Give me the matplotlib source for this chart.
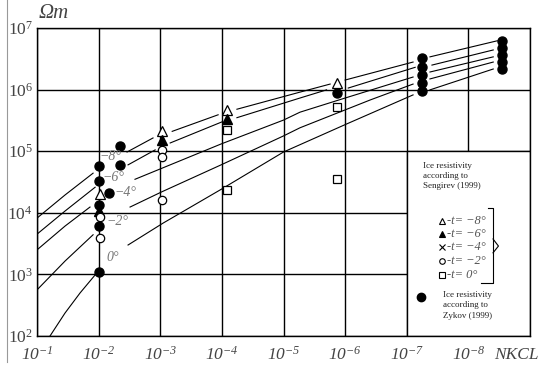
import numpy as np
import matplotlib
matplotlib.use("Agg")
import matplotlib.pyplot as plt
from matplotlib.patches import Rectangle
from matplotlib.lines import Line2D

nan = np.nan

# calculated curves, NaN = gap in the drawn line
m8_x = [1e-1, 3.5e-2, 1.23e-2, nan, 3.46e-3, 1.31e-3, nan, 6.4e-4, 1.15e-4, nan,
        5.7e-5, 5.4e-6, 1.75e-6, nan, 1e-6, 7.9e-8, nan, 4.2e-8, 3.4e-9]
m8_y = [8.2e3, 1.95e4, 4.4e4, nan, 9.7e4, 1.64e5, nan, 2.1e5, 3.9e5, nan,
        4.8e5, 9.1e5, 1.23e6, nan, 1.43e6, 2.8e6, nan, 3.4e6, 6.2e6]
m6_x = [1e-1, 3.5e-2, 1.14e-2, nan, 3.33e-3, 1.21e-3, nan, 6.9e-4, 9.9e-5, nan,
        5.7e-5, 5.4e-6, 2.0e-6, nan, 8.9e-7, 7.3e-8, nan, 3.9e-8, 3.95e-9]
m6_y = [4.5e3, 1.07e4, 2.6e4, nan, 6.0e4, 1.05e5, nan, 1.36e5, 3.0e5, nan,
        3.5e5, 7.3e5, 9.9e5, nan, 1.06e6, 2.3e6, nan, 2.5e6, 4.4e6]
m4_x = [1e-1, 3.5e-2, 1.38e-2, nan, 2.57e-3, 9.35e-4, 1.03e-4, 1.0e-5, 5.4e-6,
        1e-6, 7.9e-8, nan, 4.2e-8, 3.95e-9]
m4_y = [2.5e3, 6.1e3, 1.24e4, nan, 3.5e4, 5.3e4, 1.31e5, 3.2e5, 4.3e5,
        7.3e5, 1.6e6, nan, 1.93e6, 3.4e6]
m2_x = [1e-1, 3.5e-2, 1.23e-2, nan, 3.09e-3, 9.35e-4, 1.03e-4, 1.0e-5, 5.4e-6,
        3.9e-7, 7.9e-8, nan, 4.2e-8, 3.95e-9]
m2_y = [5.6e2, 1.65e3, 4.4e3, nan, 1.24e4, 2.2e4, 6.0e4, 1.77e5, 2.4e5,
        6.8e5, 1.23e6, nan, 1.49e6, 2.8e6]
z0_x = [6.15e-2, 3.51e-2, 2.0e-2, 1.14e-2, nan, 3.33e-3, 9.0e-4, 1.03e-4, 1.0e-5,
        1e-6, 7.9e-8, nan, 4.2e-8, 3.95e-9]
z0_y = [1e2, 2.36e2, 5.0e2, 9.8e2, nan, 3.0e3, 6.8e3, 2.4e4, 9.7e4,
        2.7e5, 8.2e5, nan, 9.9e5, 2.16e6]

# Sengirev (1999)
tri_open_x = [9.5e-3, 9.3e-4, 8.2e-5, 1.35e-6]
tri_open_y = [2.05e4, 2.1e5, 4.7e5, 1.3e6]
tri_fill_x = [1e-2, 9.3e-4, 8.2e-5]
tri_fill_y = [1.07e4, 1.5e5, 3.3e5]
circ_open_x = [9.5e-3, 9.5e-3, 9.3e-4, 9.3e-4, 9.3e-4]
circ_open_y = [8.5e3, 3.9e3, 1.05e5, 8.1e4, 1.6e4]
square_x = [8.2e-5, 8.2e-5, 1.35e-6, 1.35e-6]
square_y = [2.2e5, 2.35e4, 5.2e5, 3.5e4]

# Zykov (1999)
zykov_x = [4.5e-3, 1e-2, 4.5e-3, 1e-2, 6.8e-3, 1e-2, 1e-2, 1e-2, 1.35e-6,
           5.6e-8, 5.6e-8, 5.6e-8, 5.6e-8, 5.6e-8,
           2.8e-9, 2.8e-9, 2.8e-9, 2.8e-9, 2.8e-9]
zykov_y = [1.2e5, 5.8e4, 6.0e4, 3.3e4, 2.1e4, 1.35e4, 6.2e3, 1.1e3, 8.8e5,
           3.2e6, 2.3e6, 1.75e6, 1.3e6, 9.6e5,
           6.2e6, 4.8e6, 3.6e6, 2.8e6, 2.15e6]

curve_labels = ["\u22128\u00b0", "\u22126\u00b0", "\u22124\u00b0", "\u22122\u00b0", "0\u00b0"]
label_x = [6.5e-3, 5.8e-3, 3.7e-3, 5.0e-3, 5.8e-3]
label_y = [8.1e4, 3.8e4, 2.1e4, 7.1e3, 1.85e3]

x_ticks = [1e-1, 1e-2, 1e-3, 1e-4, 1e-5, 1e-6, 1e-7, 1e-8, 1e-9]
x_ticklabels = [r"$\mathsf{10^{-%d}}$" % i for i in range(1, 9)] + [""]
y_ticks = [1e2, 1e3, 1e4, 1e5, 1e6, 1e7]
y_ticklabels = [r"$\mathrm{10^{%d}}$" % i for i in range(2, 8)]

legend_temps = ["-t= \u22128\u00b0", "-t= \u22126\u00b0", "-t= \u22124\u00b0",
                "-t= \u22122\u00b0", "-t= 0\u00b0"]

plt.rcParams['font.family'] = ['Liberation Serif', 'DejaVu Serif']
plt.rcParams['mathtext.fontset'] = 'custom'
plt.rcParams['mathtext.rm'] = 'Liberation Serif'
plt.rcParams['mathtext.it'] = 'Liberation Serif:italic'
plt.rcParams['mathtext.sf'] = 'Liberation Serif:italic'  # italic digits for x ticks

fig = plt.figure(figsize=(5.5, 3.68), dpi=100)
ax = fig.add_axes([37/550, 32/368, 493/550, 308/368])
ax.set_xscale("log")
ax.set_yscale("log")
ax.set_xlim(1e-1, 1e-9)
ax.set_ylim(1e2, 1e7)
ax.set_xticks(x_ticks)
ax.set_xticklabels(x_ticklabels)
ax.set_yticks(y_ticks)
ax.set_yticklabels(y_ticklabels)
ax.xaxis.set_minor_locator(matplotlib.ticker.NullLocator())
ax.yaxis.set_minor_locator(matplotlib.ticker.NullLocator())
ax.tick_params(length=0, labelsize=12.5, labelcolor="#444")
ax.tick_params(axis="x", pad=7)
ax.tick_params(axis="y", pad=3)
ax.grid(True, color="black", lw=1.0)
for s in ax.spines.values():
    s.set_linewidth(1.0)

# legend box covers the grid
ax.add_patch(Rectangle((1e-9, 1e2), 1e-7 - 1e-9, 1e5 - 1e2, facecolor="white",
                       edgecolor="black", lw=1.0, zorder=1.6))

for cx, cy in [(m8_x, m8_y), (m6_x, m6_y), (m4_x, m4_y), (m2_x, m2_y), (z0_x, z0_y)]:
    ax.plot(cx, cy, color="black", lw=0.8, zorder=2)

ax.plot(tri_open_x, tri_open_y, ls="none", marker="^", ms=7.5, mfc="white", mec="black", mew=0.9, zorder=3)
ax.plot(tri_fill_x, tri_fill_y, ls="none", marker="^", ms=7.5, mfc="black", mec="black", zorder=3)
ax.plot(circ_open_x, circ_open_y, ls="none", marker="o", ms=6, mfc="white", mec="black", mew=0.9, zorder=3)
ax.plot(square_x, square_y, ls="none", marker="s", ms=5.5, mfc="white", mec="black", mew=0.9, zorder=3)
ax.plot(zykov_x, zykov_y, ls="none", marker="o", ms=6.5, mfc="black", mec="black", zorder=3)

for t, lx, ly in zip(curve_labels, label_x, label_y):
    ax.text(lx, ly, t, color="#777", style="italic", fontsize=10, ha="center", va="center", zorder=4)

# legend content
ax.text(0.783, 0.565, "Ice resistivity\naccording to\nSengirev (1999)", transform=ax.transAxes,
        fontsize=6.5, color="#222", va="top", ha="left", linespacing=1.35)
leg_y = [0.373, 0.331, 0.289, 0.244, 0.198]
leg_style = [dict(marker="^", mfc="white"), dict(marker="^", mfc="black"),
             dict(marker="x", mfc="black"), dict(marker="o", mfc="white"),
             dict(marker="s", mfc="white")]
for t, yy, st in zip(legend_temps, leg_y, leg_style):
    ax.plot([0.8215], [yy], transform=ax.transAxes, ls="none", ms=4, mec="black",
            mew=0.8, clip_on=False, zorder=4, **st)
    ax.text(0.832, yy, t, transform=ax.transAxes, fontsize=9, style="italic",
            color="#555", va="center", ha="left", zorder=4)
ax.plot([0.915, 0.925, 0.925, 0.900], [0.4156, 0.4156, 0.172, 0.172], transform=ax.transAxes,
        color="black", lw=0.8, zorder=4)
ax.plot([0.925, 0.936, 0.925], [0.315, 0.292, 0.270], transform=ax.transAxes,
        color="black", lw=0.8, zorder=4)
ax.plot([0.779], [0.127], transform=ax.transAxes, ls="none", marker="o", ms=6,
        mfc="black", mec="black", zorder=4)
ax.text(0.8235, 0.145, "Ice resistivity\naccording to\nZykov (1999)", transform=ax.transAxes,
        fontsize=6.5, color="#222", va="top", ha="left", linespacing=1.35)

ax.text(0.9716, -0.062, "NKCL", transform=ax.transAxes, fontsize=12.5, style="italic",
        color="#444", ha="center", va="center")
ax.text(0.003, 1.015, "\u03a9m", transform=ax.transAxes, fontsize=15, style="italic",
        color="#444", ha="left", va="bottom")

fig.add_artist(Line2D([7/550, 7/550], [6/368, 1.0], color="#999", lw=0.8))

plt.savefig("out.png", dpi=100)
